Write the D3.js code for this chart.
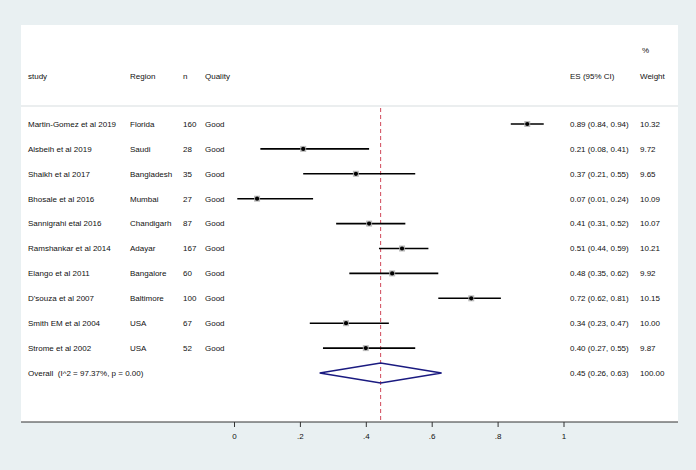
<!DOCTYPE html>
<html>
<head>
<meta charset="utf-8">
<script src="https://cdn.jsdelivr.net/npm/d3@7"></script>
<style>
  html, body { margin: 0; padding: 0; background: #e9f0f2; }
  svg { display: block; }
  text { font-family: "Liberation Sans", Arial, sans-serif; font-size: 8px; fill: #111; white-space: pre; }
</style>
</head>
<body>
<svg id="chart" width="696" height="470"></svg>
<script>
// ---- data ----
const studies = ["Martin-Gomez et al 2019", "Alsbeih et al 2019", "Shaikh et al 2017", "Bhosale et al 2016",
  "Sannigrahi etal 2016", "Ramshankar et al 2014", "Elango et al 2011", "D'souza et al 2007",
  "Smith EM et al 2004", "Strome et al 2002"];
const regions = ["Florida", "Saudi", "Bangladesh", "Mumbai", "Chandigarh", "Adayar", "Bangalore", "Baltimore", "USA", "USA"];
const nValues = [160, 28, 35, 27, 87, 167, 60, 100, 67, 52];
const quality = ["Good", "Good", "Good", "Good", "Good", "Good", "Good", "Good", "Good", "Good"];
const es = [0.89, 0.21, 0.37, 0.07, 0.41, 0.51, 0.48, 0.72, 0.34, 0.40];
const lower = [0.84, 0.08, 0.21, 0.01, 0.31, 0.44, 0.35, 0.62, 0.23, 0.27];
const upper = [0.94, 0.41, 0.55, 0.24, 0.52, 0.59, 0.62, 0.81, 0.47, 0.55];
const ciLabels = ["0.89 (0.84, 0.94)", "0.21 (0.08, 0.41)", "0.37 (0.21, 0.55)", "0.07 (0.01, 0.24)",
  "0.41 (0.31, 0.52)", "0.51 (0.44, 0.59)", "0.48 (0.35, 0.62)", "0.72 (0.62, 0.81)",
  "0.34 (0.23, 0.47)", "0.40 (0.27, 0.55)"];
const weights = ["10.32", "9.72", "9.65", "10.09", "10.07", "10.21", "9.92", "10.15", "10.00", "9.87"];
const overallLabel = "Overall  (I^2 = 97.37%, p = 0.00)";
const overallES = 0.445, overallLower = 0.26, overallUpper = 0.63;
const overallCI = "0.45 (0.26, 0.63)";
const overallWeight = "100.00";
const tickValues = [0, 0.2, 0.4, 0.6, 0.8, 1];
const tickLabels = ["0", ".2", ".4", ".6", ".8", "1"];

// ---- layout ----
const svg = d3.select("#chart");
const panel = { x0: 21, x1: 678, y0: 25, y1: 422 };
const col = { study: 28, region: 130, n: 183, quality: 205, ci: 570, weight: 640 };

const x = d3.scaleLinear().domain([0, 1]).range([234, 563.5]);
const rowKeys = studies.concat(["__overall"]);
const y = d3.scalePoint().domain(rowKeys).range([124, 373]);

// white panel
svg.append("rect").attr("x", panel.x0).attr("y", panel.y0)
  .attr("width", panel.x1 - panel.x0).attr("height", panel.y1 - panel.y0).attr("fill", "#ffffff");

// header
const headerY = 76;
const hdr = svg.append("g");
[["study", col.study], ["Region", col.region], ["n", col.n], ["Quality", col.quality],
 ["ES (95% CI)", col.ci], ["Weight", col.weight]].forEach(([t, xx]) => {
  hdr.append("text").attr("x", xx).attr("y", headerY).attr("dy", "0.35em").text(t);
});
hdr.append("text").attr("x", col.weight + 2).attr("y", 50).attr("dy", "0.35em").text("%");

// separator
svg.append("line").attr("x1", panel.x0).attr("x2", panel.x1).attr("y1", 106).attr("y2", 106)
  .attr("stroke", "#e4e8ea").attr("stroke-width", 1.5);

// reference dashed line at overall
svg.append("line").attr("x1", x(overallES)).attr("x2", x(overallES))
  .attr("y1", 108).attr("y2", panel.y1)
  .attr("stroke", "#d0485a").attr("stroke-width", 1).attr("stroke-dasharray", "4,3");

// rows text
const rows = svg.append("g");
studies.forEach((s, i) => {
  const yy = y(s);
  const cells = [[s, col.study], [regions[i], col.region], [String(nValues[i]), col.n],
    [quality[i], col.quality], [ciLabels[i], col.ci], [weights[i], col.weight]];
  cells.forEach(([t, xx]) => rows.append("text").attr("x", xx).attr("y", yy).attr("dy", "0.35em").text(t));
});
const oy = y("__overall");
rows.append("text").attr("x", col.study).attr("y", oy).attr("dy", "0.35em").text(overallLabel);
rows.append("text").attr("x", col.ci).attr("y", oy).attr("dy", "0.35em").text(overallCI);
rows.append("text").attr("x", col.weight).attr("y", oy).attr("dy", "0.35em").text(overallWeight);

// CI lines and points
const marks = svg.append("g");
studies.forEach((s, i) => {
  const yy = y(s);
  marks.append("line").attr("x1", x(lower[i])).attr("x2", x(upper[i])).attr("y1", yy).attr("y2", yy)
    .attr("stroke", "#000").attr("stroke-width", 1.6);
  marks.append("rect").attr("x", x(es[i]) - 3).attr("y", yy - 3).attr("width", 6).attr("height", 6)
    .attr("fill", "#b0b0b0").attr("opacity", 0.85);
  marks.append("circle").attr("cx", x(es[i])).attr("cy", yy).attr("r", 2.1).attr("fill", "#000");
});

// diamond
const dh = 10;
marks.append("path")
  .attr("d", `M${x(overallLower)},${oy} L${x(overallES)},${oy - dh} L${x(overallUpper)},${oy} L${x(overallES)},${oy + dh} Z`)
  .attr("fill", "none").attr("stroke", "#1a1a80").attr("stroke-width", 1.5);

// axis
svg.append("line").attr("x1", panel.x0).attr("x2", panel.x1).attr("y1", panel.y1).attr("y2", panel.y1)
  .attr("stroke", "#333").attr("stroke-width", 1);
const axis = d3.axisBottom(x).tickValues(tickValues).tickSize(5).tickPadding(6)
  .tickFormat((d, i) => tickLabels[i]);
const ax = svg.append("g").attr("transform", `translate(0,${panel.y1})`).call(axis);
ax.select(".domain").remove();
ax.selectAll(".tick line").attr("stroke", "#333");
ax.selectAll(".tick text").style("font-family", "\"Liberation Sans\", Arial, sans-serif")
  .style("font-size", "8px").attr("fill", "#111");
</script>
</body>
</html>
